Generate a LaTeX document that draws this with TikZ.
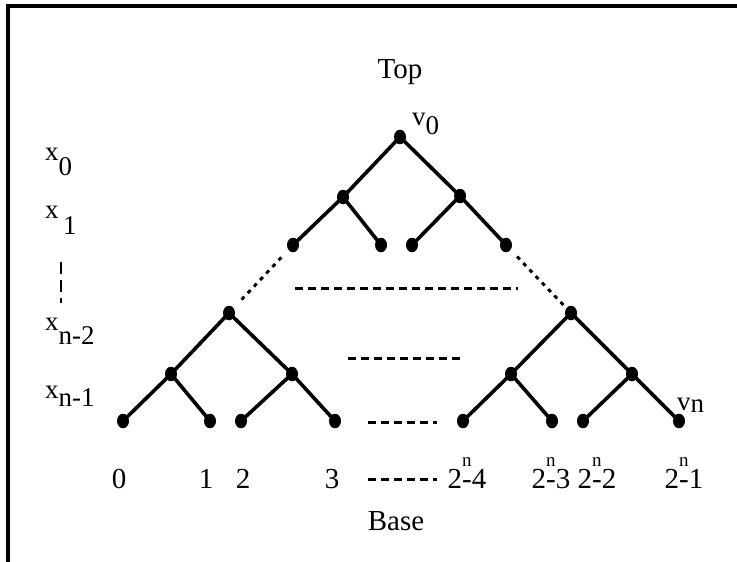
\documentclass[tikz,border=0pt]{standalone}
\usepackage{fontspec}
\setmainfont{Liberation Serif}
\usetikzlibrary{shapes.geometric}
\begin{document}
\begin{tikzpicture}[x=1pt,y=-1pt,
  dot/.style={ellipse,fill=black,minimum width=12pt,minimum height=14.5pt,inner sep=0pt},
  edge/.style={line width=3.6pt},
  dotline/.style={line width=3pt,dash pattern=on 4pt off 5pt},
  dashline/.style={line width=3pt,dash pattern=on 8pt off 5pt},
  big/.style={font=\fontsize{29}{34}\selectfont,inner sep=0pt},
  mid/.style={font=\fontsize{27}{30}\selectfont,inner sep=0pt},
  frame/.style={line width=3.2pt}]
\useasboundingbox (0,0) rectangle (737,562);
\draw[frame] (737,6) -- (8,6) -- (8,562);
% tree nodes
\node[dot] (v0) at (400,137) {};
\node[dot] (a) at (343,197) {};
\node[dot] (b) at (460,196) {};
\node[dot] (c1) at (293,245) {};
\node[dot] (c2) at (381,245) {};
\node[dot] (c3) at (412,245) {};
\node[dot] (c4) at (506,245) {};
\node[dot] (d1) at (229,313) {};
\node[dot] (d2) at (571,313) {};
\node[dot] (e1) at (171,374) {};
\node[dot] (e2) at (292,374) {};
\node[dot] (e3) at (511,374) {};
\node[dot] (e4) at (632,374) {};
\node[dot] (l1) at (123,421) {};
\node[dot] (l2) at (210,421) {};
\node[dot] (l3) at (241,421) {};
\node[dot] (l4) at (335,421) {};
\node[dot] (l5) at (463,421) {};
\node[dot] (l6) at (552,421) {};
\node[dot] (l7) at (583,421) {};
\node[dot] (l8) at (679,421) {};
% edges
\draw[edge] (a.center) -- (v0.center) -- (b.center);
\draw[edge] (c1.center) -- (a.center) -- (c2.center);
\draw[edge] (c3.center) -- (b.center) -- (c4.center);
\draw[edge] (e1.center) -- (d1.center) -- (e2.center);
\draw[edge] (e3.center) -- (d2.center) -- (e4.center);
\draw[edge] (l1.center) -- (e1.center) -- (l2.center);
\draw[edge] (l3.center) -- (e2.center) -- (l4.center);
\draw[edge] (l5.center) -- (e3.center) -- (l6.center);
\draw[edge] (l7.center) -- (e4.center) -- (l8.center);
% dotted sides
\draw[dotline,shorten <=17pt,shorten >=15pt] (c1.center) -- (d1.center);
\draw[dotline,shorten <=16pt,shorten >=11pt] (c4.center) -- (d2.center);
% dashed horizontals
\coordinate (h1a) at (295,288); \coordinate (h1b) at (518,288);
\coordinate (h2a) at (348,358); \coordinate (h2b) at (460,358);
\coordinate (h3a) at (368,422); \coordinate (h3b) at (437,422);
\coordinate (h4a) at (368,479); \coordinate (h4b) at (437,479);
\coordinate (vd1) at (61,262); \coordinate (vd2) at (61,303);
\draw[dashline] (h1a) -- (h1b);
\draw[dashline] (h2a) -- (h2b);
\draw[dashline] (h3a) -- (h3b);
\draw[dashline] (h4a) -- (h4b);
\draw[line width=2pt,dash pattern=on 12pt off 6pt] (vd1) -- (vd2);
% labels
\node[big,anchor=base] (top) at (400,78) {Top};
\node[big,anchor=base] (base) at (396,530) {Base};
\node[mid,anchor=base west] (lv0) at (412,125) {v\raisebox{-9pt}{0}};
\node[mid,anchor=base west] (lvn) at (677,410) {v\raisebox{-2pt}{n}};
\node[mid,anchor=base west] (x0) at (45,160) {x\raisebox{-15pt}{0}};
\node[mid,anchor=base west] (x1) at (45,218) {x\raisebox{-16pt}{\,1}};
\node[mid,anchor=base west] (xn2) at (45,330) {x\raisebox{-14pt}{n-2}};
\node[mid,anchor=base west] (xn1) at (45,398) {x\raisebox{-8pt}{n-1}};
\node[big,anchor=base] (n0) at (119,488) {0};
\node[big,anchor=base] (n1) at (206,488) {1};
\node[big,anchor=base] (n2) at (243,488) {2};
\node[big,anchor=base] (n3) at (332,488) {3};
\newcommand{\pw}[1]{2\rlap{\raisebox{22pt}{\fontsize{19}{20}\selectfont n}}-#1}
\node[big,anchor=base] (m4) at (467,488) {\pw{4}};
\node[big,anchor=base] (m3) at (551,488) {\pw{3}};
\node[big,anchor=base] (m2) at (597,488) {\pw{2}};
\node[big,anchor=base] (m1) at (684,488) {\pw{1}};
\end{tikzpicture}
\end{document}
